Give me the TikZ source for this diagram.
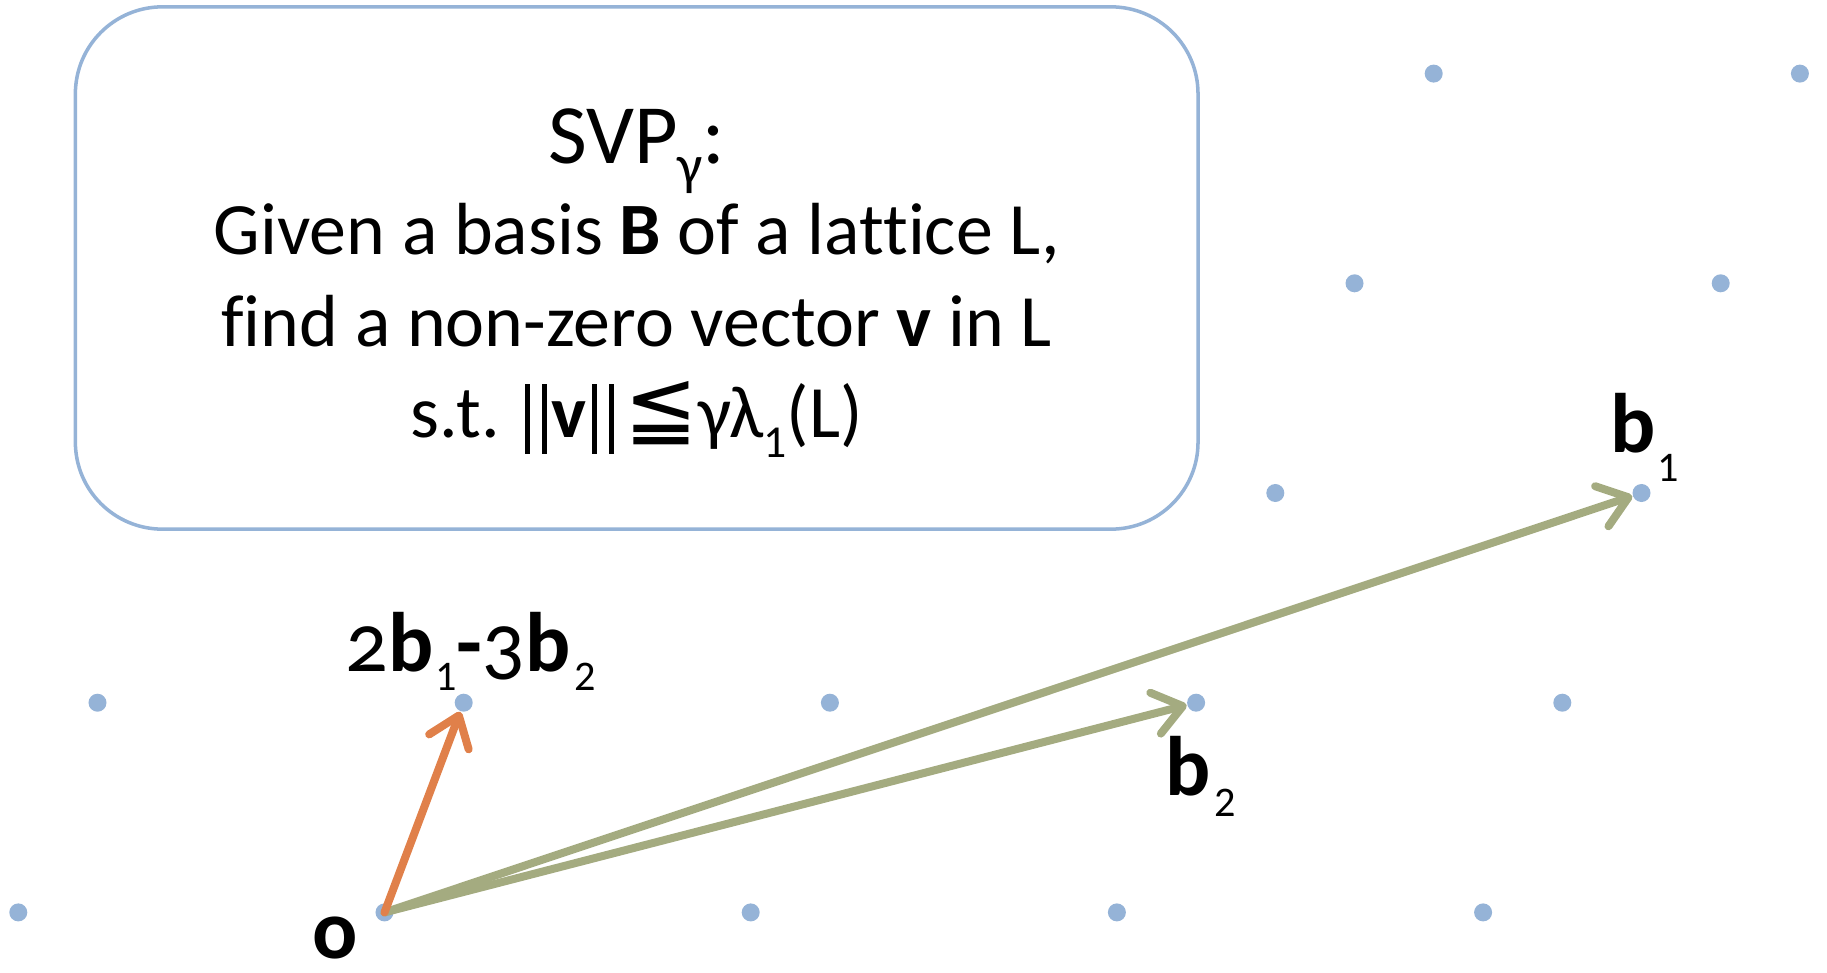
\documentclass[tikz,border=0pt]{standalone}
\usepackage{fontspec}
\setmainfont{Carlito}[Ligatures=NoCommon]
\newfontfamily\symfont{DejaVu Sans}
\newfontfamily\lblfont[Numbers=OldStyle,Ligatures=NoCommon]{Carlito}
\newfontfamily\subfont[Numbers=Lining]{Carlito}
\usetikzlibrary{arrows.meta,positioning}
\definecolor{latblue}{HTML}{95B3D7}
\definecolor{basgreen}{HTML}{A4AB80}
\definecolor{shortorange}{HTML}{E0804A}
\tikzset{
  pt/.style={circle,fill=latblue,inner sep=0pt,minimum size=0.18cm},
  vec/.style={line width=0.08cm,draw=#1,line cap=round,
    -{Straight Barb[length=8pt,width=12pt,line cap=round,line join=round]}},
  taskbox/.style={draw=latblue,line width=1pt,rounded corners=0.87cm,fill=white,
    minimum width=11.22cm,minimum height=5.22cm},
  tasktxt/.style={align=center,inner sep=0pt,font=\fontsize{21}{26}\selectfont},
  lbl/.style={inner sep=0pt,anchor=base west,font=\lblfont\fontsize{24}{26}\selectfont},
}
% lowered subscript: [drop]{size}{text}
\newcommand{\lsub}[3][5.5pt]{\raisebox{-#1}{\subfont\fontsize{#2}{#2}\selectfont #3}}
\newcommand{\onebar}{\vrule width 1.4pt height 15.3pt depth 4.5pt}
\newcommand{\nbar}{\onebar\kern3.4pt\onebar}

\begin{document}
\begin{tikzpicture}[x=0.01cm,y=-0.01cm]
 \useasboundingbox (0,0) rectangle (1827,973);
 % lattice points (row r, column k)
 \foreach \r/\k in {0/-1,0/0,0/1,0/2,0/3,1/-1,1/0,1/1,1/2,1/3,2/2,2/3,3/2,3/3,4/2,4/3}
  \node[pt] (p\r\k) at ({384.5+\k*366.2+\r*79.2},{912.4-\r*209.7}) {};
 % problem box
 \node[taskbox] (task) at (636.7,268) {};
 \node[tasktxt] (stmt) at (636.7,283) {{\fontsize{24}{26}\selectfont SVP\lsub[6pt]{16}{γ}:}\\
   Given a basis \textbf{B} of a lattice L,\\
   find a non-zero vector \textbf{v} in L\\
   s.t.\kern7pt\nbar\kern1.5pt\textbf{v}\kern1.5pt\nbar\kern3pt{\symfont\fontsize{25}{26}\selectfont ≦}γλ\lsub{13}{1}(L)};
 % basis and short vector
 \draw[vec=basgreen] (p00.center) -- (p23);
 \draw[vec=basgreen] (p00.center) -- (p12);
 \draw[vec=shortorange] (p00.center) -- (p10);
 % labels
 \node[lbl] (lb1) at (1610,452) {\textbf{b}\kern0.5pt\lsub[8.5pt]{12}{1}};
 \node[lbl] (lb2) at (1165,795) {\textbf{b}\kern1pt\lsub[6pt]{12}{2}};
 \node[lbl] (lv) at (345,671) {2\textbf{b}\kern0.5pt\lsub{12}{1}\textbf{-}3\textbf{b}\kern1pt\lsub{12}{2}};
 \node[lbl] (lo) at (312,958) {\textbf{o}};
\end{tikzpicture}
\end{document}
